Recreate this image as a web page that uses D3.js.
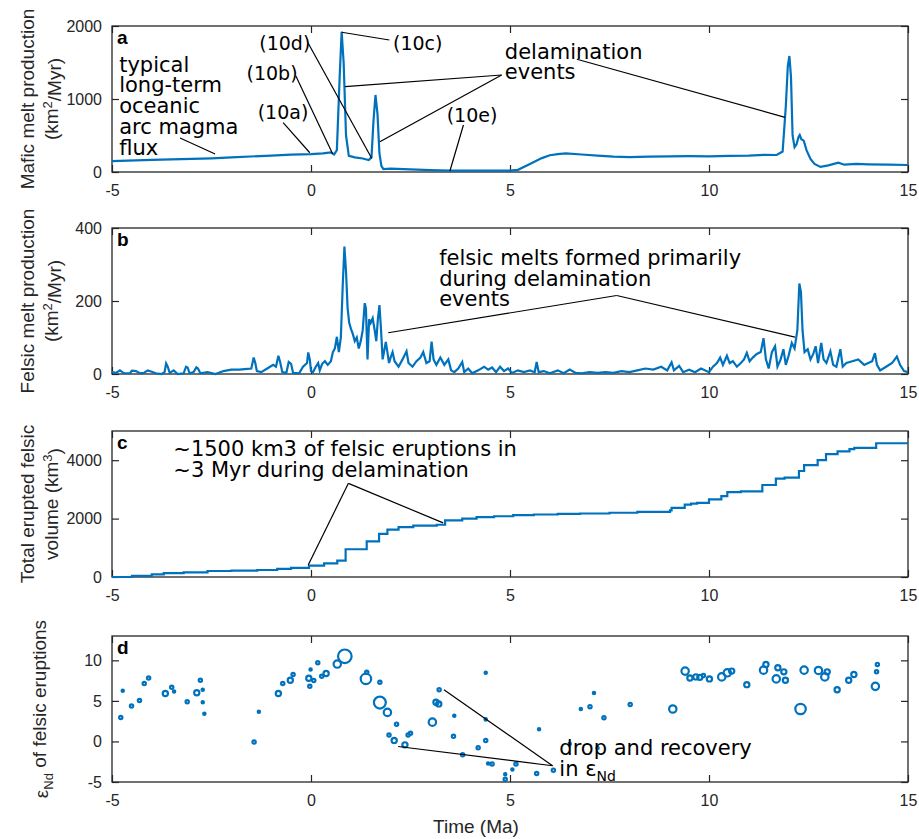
<!DOCTYPE html>
<html>
<head>
<meta charset="utf-8">
<script src="https://cdn.jsdelivr.net/npm/d3@7"></script>
<style>
  body { margin: 0; background: #fff; }
  .tick text { font-family: "Liberation Sans", Arial, sans-serif; font-size: 16px; fill: #262626; }
  .ann { font-family: "DejaVu Sans", sans-serif; font-size: 21px; fill: #000; }
  .ann.small { font-size: 19px; }
  .ylab { font-family: "Liberation Sans", Arial, sans-serif; font-size: 19px; fill: #262626; }
  .letter { font-family: "Liberation Sans", Arial, sans-serif; font-size: 19px; font-weight: bold; fill: #000; }
</style>
</head>
<body>
<script>
// ---- data ----
const xTicks = [-5, 0, 5, 10, 15];

// a: mafic melt production (km2/Myr)
const maficT = [-5, -4, -3, -2.5, -2, -1, -0.5, 0, 0.3, 0.5, 0.58, 0.65, 0.72, 0.77, 0.82, 0.88, 0.95, 1.1, 1.3, 1.45,
  1.52, 1.57, 1.62, 1.67, 1.72, 1.77, 1.82, 2.0, 2.5, 3, 3.5, 4, 4.5, 5.0, 5.2, 5.5, 5.8, 6.0, 6.2, 6.4,
  6.8, 7.2, 7.6, 8, 8.5, 9, 9.5, 10, 10.5, 11, 11.4, 11.7, 11.85, 11.93, 11.98, 12.02, 12.06, 12.1, 12.15, 12.2,
  12.25, 12.28, 12.32, 12.38, 12.45, 12.55, 12.65, 12.8, 13.0, 13.25, 13.4, 13.7, 14, 14.5, 15];
const maficV = [150, 165, 180, 188, 200, 225, 238, 246, 255, 268, 240, 300, 1300, 1922, 1500, 500, 220, 200, 185, 165,
  200, 700, 1055, 800, 250, 80, 40, 45, 35, 25, 18, 20, 18, 20, 30, 110, 190, 230, 245, 256,
  240, 225, 210, 205, 210, 215, 218, 215, 222, 225, 235, 233, 280, 900, 1450, 1589, 1300, 500, 340, 380,
  480, 507, 450, 430, 300, 180, 110, 70, 90, 128, 100, 110, 105, 100, 96];

// b: felsic melt production (km2/Myr)
const felsicT = [-5, -4.9, -4.8, -4.7, -4.55, -4.5, -4.4, -4.3, -4.2, -4.1, -4.0, -3.9, -3.75, -3.68, -3.64, -3.6, -3.55, -3.45, -3.35, -3.2,
  -3.14, -3.1, -3.05, -2.95, -2.88, -2.84, -2.78, -2.6, -2.4, -2.2, -2.0, -1.8, -1.6, -1.5, -1.44, -1.4, -1.36, -1.25, -1.1, -0.95,
  -0.88, -0.82, -0.78, -0.72, -0.62, -0.56, -0.5, -0.45, -0.3, -0.2, -0.1, -0.07, -0.03, 0, 0.05, 0.12, 0.18, 0.22, 0.28, 0.35,
  0.42, 0.5, 0.55, 0.6, 0.65, 0.7, 0.75, 0.8, 0.84, 0.88, 0.92, 0.96, 1.0, 1.05, 1.1, 1.15, 1.2, 1.25, 1.3, 1.35,
  1.38, 1.42, 1.46, 1.5, 1.55, 1.6, 1.64, 1.68, 1.72, 1.76, 1.8, 1.85, 1.88, 1.92, 1.96, 2.0, 2.05, 2.1, 2.2, 2.3,
  2.4, 2.45, 2.55, 2.65, 2.75, 2.82, 2.9, 2.98, 3.03, 3.08, 3.15, 3.25, 3.35, 3.45, 3.52, 3.6, 3.7, 3.8, 3.85, 3.95,
  4.05, 4.2, 4.35, 4.45, 4.55, 4.65, 4.75, 4.85, 4.95, 5.05, 5.2, 5.35, 5.5, 5.62, 5.67, 5.72, 5.85, 6.0, 6.2, 6.35,
  6.5, 6.65, 6.8, 7.0, 7.2, 7.4, 7.6, 7.8, 8.0, 8.2, 8.4, 8.6, 8.8, 8.95, 9.06, 9.12, 9.25, 9.35, 9.5, 9.65,
  9.8, 10.0, 10.1, 10.2, 10.28, 10.35, 10.45, 10.52, 10.6, 10.7, 10.8, 10.88, 10.95, 11.02, 11.1, 11.2, 11.3, 11.37, 11.43, 11.5,
  11.58, 11.66, 11.72, 11.8, 11.87, 11.93, 12.0, 12.08, 12.15, 12.22, 12.27, 12.31, 12.35, 12.4, 12.48, 12.55, 12.62, 12.68, 12.74, 12.82,
  12.88, 12.95, 13.05, 13.12, 13.2, 13.3, 13.36, 13.45, 13.6, 13.75, 13.9, 14.0, 14.1, 14.17, 14.22, 14.3, 14.45, 14.6, 14.72, 14.8,
  14.9, 15];
const felsicV = [5, 3, 10, 2, 2, 9, 8, 2, 3, 10, 6, 2, 0, 5, 29, 20, 3, 10, 0, 2,
  20, 18, 2, 5, 18, 15, 2, 5, 0, 8, 12, 12, 14, 15, 45, 30, 8, 5, 15, 25,
  20, 50, 35, 5, 3, 33, 28, 3, 2, 20, 30, 59, 40, 8, 5, 20, 30, 10, 28, 35,
  25, 35, 60, 70, 102, 60, 100, 250, 349, 280, 180, 140, 125, 110, 90, 100, 70, 90, 120, 194,
  180, 40, 150, 140, 153, 120, 90, 150, 189, 120, 40, 70, 88, 60, 30, 45, 60, 35, 20, 40,
  62, 30, 20, 35, 45, 60, 30, 35, 89, 40, 25, 45, 25, 40, 10, 5, 15, 33, 5, 15,
  2, 10, 20, 12, 18, 5, 20, 8, 15, 3, 10, 5, 10, 5, 33, 5, 8, 2, 10, 2,
  12, 3, 2, 5, 3, 5, 3, 8, 5, 10, 15, 12, 20, 10, 32, 10, 22, 5, 12, 5,
  15, 5, 20, 30, 45, 25, 50, 30, 35, 20, 30, 40, 58, 35, 45, 55, 60, 98, 40, 15,
  60, 76, 20, 40, 68, 25, 50, 85, 70, 120, 248, 225, 120, 60, 68, 40, 55, 76, 30, 85,
  40, 30, 62, 25, 20, 68, 20, 30, 35, 40, 25, 30, 35, 57, 25, 10, 20, 30, 48, 25,
  8, 5];

// c: total erupted felsic volume (km3), stepwise
const volT = [-5, -4.5, -4, -3.7, -3.2, -2.6, -2.0, -1.35, -0.85, -0.5, -0.05, 0.33, 0.66, 0.87, 1.4, 1.71, 1.92, 2.2, 2.57, 3.16,
  3.37, 3.8, 4.16, 4.6, 5.08, 5.6, 6.2, 6.76, 7.5, 8.2, 9.02, 9.06, 9.39, 9.55, 9.7, 10.0, 10.31, 10.46, 10.8, 11.34,
  11.68, 11.9, 12.26, 12.39, 12.73, 12.94, 13.23, 13.53, 13.65, 14.2, 15];
const volV = [0, 40, 90, 130, 160, 205, 215, 240, 275, 310, 390, 470, 560, 950, 1220, 1480, 1620, 1710, 1760, 1790,
  1940, 2000, 2050, 2080, 2120, 2140, 2160, 2175, 2200, 2230, 2280, 2370, 2480, 2510, 2540, 2660, 2770, 2910, 2930, 3150,
  3370, 3400, 3630, 3830, 4000, 4210, 4300, 4380, 4420, 4580, 4580];

// d: eNd of felsic eruptions, with eruption volume (marker size)
const epsT = [-4.78, -4.73, -4.51, -4.31, -4.19, -4.08, -3.66, -3.5, -3.44, -3.11, -2.87, -2.78, -2.72, -2.72, -2.68,
  -1.43, -1.31, -0.82, -0.71, -0.52, -0.45, -0.055, -0.03, -0.01, 0.07, 0.17, 0.27, 0.38, 0.66, 0.85,
  1.4, 1.38, 1.73, 1.73, 1.92, 2.15, 1.96, 2.09, 2.36, 2.44, 2.5, 3.22, 3.14, 3.21, 3.05,
  3.6, 3.58, 3.81, 4.2, 4.39, 4.39, 4.39, 4.45, 4.55, 4.88, 4.88, 5.06, 5.15, 5.67, 5.73,
  6.09, 6.5, 7.2, 6.78, 7.01, 7.11, 7.36, 8.02, 9.09, 9.4, 9.52, 9.67, 9.77, 9.86, 10.01,
  10.32, 10.46, 10.57, 10.95, 11.37, 11.43, 11.73, 11.69, 11.88, 11.92, 12.3, 12.39, 12.75, 12.91, 12.97,
  13.22, 13.51, 13.64, 14.18, 14.21, 14.23];
const epsV = [2.96, 6.25, 4.37, 5.04, 7.13, 7.83, 5.92, 6.67, 6.17, 4.88, 6.0, 7.54, 6.38, 4.83, 3.42,
  -0.08, 3.67, 5.92, 7.13, 7.54, 8.25, 7.79, 6.8, 8.88, 7.5, 9.71, 8.04, 8.37, 9.54, 10.5,
  8.54, 7.71, 7.29, 4.79, 3.58, 2.13, 0.79, 0.13, -0.42, 0.79, 1.0, 6.37, 4.83, 4.63, 2.38,
  3.17, 0.63, -1.63, -0.79, 8.46, 2.72, 0.13, -2.71, -2.79, -4.04, -4.67, -3.46, -2.79, -3.96, 1.5,
  -3.54, -0.3, -0.8, 4.0, 4.29, 5.96, 2.92, 4.54, 4.0, 8.67, 7.83, 7.96, 7.9, 8.12, 7.71,
  7.96, 8.46, 8.67, 7.0, 8.79, 9.5, 9.08, 7.71, 8.58, 7.54, 4.0, 8.79, 8.75, 7.96, 8.58,
  6.37, 7.54, 8.25, 6.79, 8.58, 9.5];
const epsVol = [10, 5, 10, 10, 10, 10, 25, 10, 5, 10, 25, 10, 5, 5, 5,
  10, 5, 25, 10, 25, 10, 25, 10, 5, 10, 10, 10, 25, 50, 170,
  10, 100, 10, 130, 50, 10, 10, 25, 25, 10, 10, 10, 25, 25, 50,
  5, 10, 10, 10, 5, 5, 10, 5, 10, 5, 10, 5, 10, 10, 5,
  10, 5, 5, 5, 10, 5, 10, 10, 50, 50, 25, 25, 25, 10, 25,
  50, 50, 25, 25, 50, 25, 25, 50, 25, 25, 100, 50, 50, 50, 25,
  25, 25, 25, 50, 10, 10];

// ---- layout ----
const W = 919, H = 839;
const blue = "#0072BD", axisCol = "#262626";
const svg = d3.select("body").append("svg").attr("width", W).attr("height", H);
const x = d3.scaleLinear().domain([-5, 15]).range([112, 908]);

function panel(top, bottom, domain, ticks, letter) {
  const y = d3.scaleLinear().domain(domain).range([bottom, top]);
  const g = svg.append("g");
  const fmt = d => String(d);
  g.append("g").attr("transform", `translate(0,${bottom})`)
    .call(d3.axisBottom(x).tickValues(xTicks).tickSizeInner(-7).tickSizeOuter(0).tickPadding(13).tickFormat(fmt));
  g.append("g").attr("transform", `translate(0,${top})`)
    .call(d3.axisTop(x).tickValues(xTicks).tickSizeInner(-7).tickSizeOuter(0).tickFormat(""));
  g.append("g").attr("transform", `translate(${x.range()[0]},0)`)
    .call(d3.axisLeft(y).tickValues(ticks).tickSizeInner(-7).tickSizeOuter(0).tickPadding(10).tickFormat(fmt));
  g.append("g").attr("transform", `translate(${x.range()[1]},0)`)
    .call(d3.axisRight(y).tickValues(ticks).tickSizeInner(-7).tickSizeOuter(0).tickFormat(""));
  g.selectAll(".domain").remove();
  g.selectAll(".tick line").attr("stroke", axisCol).attr("stroke-width", 1.2);
  g.append("rect").attr("x", x.range()[0]).attr("y", top)
    .attr("width", x.range()[1] - x.range()[0]).attr("height", bottom - top)
    .attr("fill", "none").attr("stroke", axisCol).attr("stroke-width", 1.3);
  g.append("text").attr("class", "letter").attr("x", x.range()[0] + 5).attr("y", top + 18).text(letter);
  return { y, g };
}

function ylabel(lines, cy) {
  lines.forEach(l => {
    const t = svg.append("text").attr("class", "ylab").attr("text-anchor", "middle")
      .attr("transform", `translate(${l.x},${cy}) rotate(-90)`);
    l.parts.forEach(p => {
      const s = t.append("tspan").text(p.s);
      if (p.sup) s.attr("font-size", "13px").attr("dy", "-0.5em");
      if (p.sub) s.attr("font-size", "13px").attr("dy", "0.35em");
      if (p.back) s.attr("dy", p.back);
    });
  });
}

function annLines(g, y, segs) {
  segs.forEach(s => {
    g.append("line")
      .attr("x1", x(s[0])).attr("y1", y(s[1]))
      .attr("x2", x(s[2])).attr("y2", y(s[3]))
      .attr("stroke", "#000").attr("stroke-width", 1.2);
  });
}

function simpleText(g, t, v, y, rows, gap, cls) {
  const txt = g.append("text").attr("class", cls || "ann").attr("x", x(t)).attr("y", y(v));
  rows.forEach((r, i) => txt.append("tspan").attr("x", x(t)).attr("dy", i === 0 ? 0 : gap).text(r));
}

// ---- panel a ----
const pa = panel(26, 172, [0, 2000], [0, 1000, 2000], "a");
pa.g.append("path")
  .datum(maficT.map((t, i) => [t, maficV[i]]))
  .attr("fill", "none").attr("stroke", blue).attr("stroke-width", 2.2)
  .attr("d", d3.line().x(d => x(d[0])).y(d => pa.y(d[1])));
annLines(pa.g, pa.y, [
  [-3.29, 466, -2.41, 247],
  [-0.70, 675, -0.03, 264],
  [-0.38, 1315, 0.545, 247],
  [-0.07, 1763, 1.525, 188],
  [0.77, 1914, 1.97, 1808],
  [3.83, 644, 3.49, 14],
  [4.79, 1329, 0.854, 1169],
  [4.79, 1329, 1.73, 415],
  [6.68, 1544, 11.91, 749]
]);
simpleText(pa.g, -4.82, 1374, pa.y, ["typical", "long-term", "oceanic", "arc magma", "flux"], 20.8);
simpleText(pa.g, -1.34, 726, pa.y, ["(10a)"], 0, "ann small");
simpleText(pa.g, -1.62, 1260, pa.y, ["(10b)"], 0, "ann small");
simpleText(pa.g, -1.30, 1671, pa.y, ["(10d)"], 0, "ann small");
simpleText(pa.g, 2.06, 1671, pa.y, ["(10c)"], 0, "ann small");
simpleText(pa.g, 3.41, 689, pa.y, ["(10e)"], 0, "ann small");
simpleText(pa.g, 4.87, 1544, pa.y, ["delamination", "events"], 20);

// ---- panel b ----
const pb = panel(228, 374, [0, 400], [0, 200, 400], "b");
pb.g.append("path")
  .datum(felsicT.map((t, i) => [t, felsicV[i]]))
  .attr("fill", "none").attr("stroke", blue).attr("stroke-width", 2.2)
  .attr("d", d3.line().x(d => x(d[0])).y(d => pb.y(d[1])));
annLines(pb.g, pb.y, [
  [1.94, 113, 7.68, 215],
  [7.68, 215, 12.16, 101]
]);
simpleText(pb.g, 3.22, 299, pb.y, ["felsic melts formed primarily", "during delamination", "events"], 20.8);

// ---- panel c ----
const pc = panel(431, 577, [0, 5000], [0, 2000, 4000], "c");
pc.g.append("path")
  .datum(volT.map((t, i) => [t, volV[i]]))
  .attr("fill", "none").attr("stroke", blue).attr("stroke-width", 2.2)
  .attr("d", d3.line().curve(d3.curveStepAfter).x(d => x(d[0])).y(d => pc.y(d[1])));
annLines(pc.g, pc.y, [
  [0.94, 3208, -0.07, 414],
  [0.94, 3208, 3.32, 1852]
]);
simpleText(pc.g, -3.46, 4150, pc.y, ["~1500 km3 of felsic eruptions in", "~3 Myr during delamination"], 21.6);

// ---- panel d ----
const pd = panel(636, 782, [-5, 13], [-5, 0, 5, 10], "d");
const rScale = d3.scaleSqrt().domain([0, 170]).range([0, 6.8]);
pd.g.selectAll("circle.eps")
  .data(epsT.map((t, i) => ({ t, v: epsV[i], vol: epsVol[i] })))
  .join("circle").attr("class", "eps")
  .attr("cx", d => x(d.t)).attr("cy", d => pd.y(d.v))
  .attr("r", d => rScale(d.vol))
  .attr("fill", "none").attr("stroke", blue).attr("stroke-width", 2.2);
annLines(pd.g, pd.y, [
  [3.34, 6.375, 6.07, -3.0],
  [2.19, -0.625, 6.07, -3.0]
]);
{
  const t = pd.g.append("text").attr("class", "ann").attr("x", x(6.24)).attr("y", pd.y(-1.625));
  t.append("tspan").attr("x", x(6.24)).text("drop and recovery");
  t.append("tspan").attr("x", x(6.24)).attr("dy", 21).text("in ε");
  t.append("tspan").attr("font-size", "14px").attr("dy", 5).text("Nd");
}

// ---- axis labels ----
ylabel([
  { x: 34, parts: [{ s: "Mafic melt production" }] },
  { x: 58, parts: [{ s: "(km" }, { s: "2", sup: true }, { s: "/Myr)", back: "0.5em" }] }
], 99);
ylabel([
  { x: 34, parts: [{ s: "Felsic melt production" }] },
  { x: 58, parts: [{ s: "(km" }, { s: "2", sup: true }, { s: "/Myr)", back: "0.5em" }] }
], 301);
ylabel([
  { x: 34, parts: [{ s: "Total erupted felsic" }] },
  { x: 58, parts: [{ s: "volume (km" }, { s: "3", sup: true }, { s: ")", back: "0.5em" }] }
], 504);
ylabel([
  { x: 48, parts: [{ s: "ε" }, { s: "Nd", sub: true }, { s: " of felsic eruptions", back: "-0.35em" }] }
], 709);

svg.append("text").attr("class", "ylab").attr("text-anchor", "middle")
  .attr("x", 476).attr("y", 833).text("Time (Ma)");
</script>
</body>
</html>
